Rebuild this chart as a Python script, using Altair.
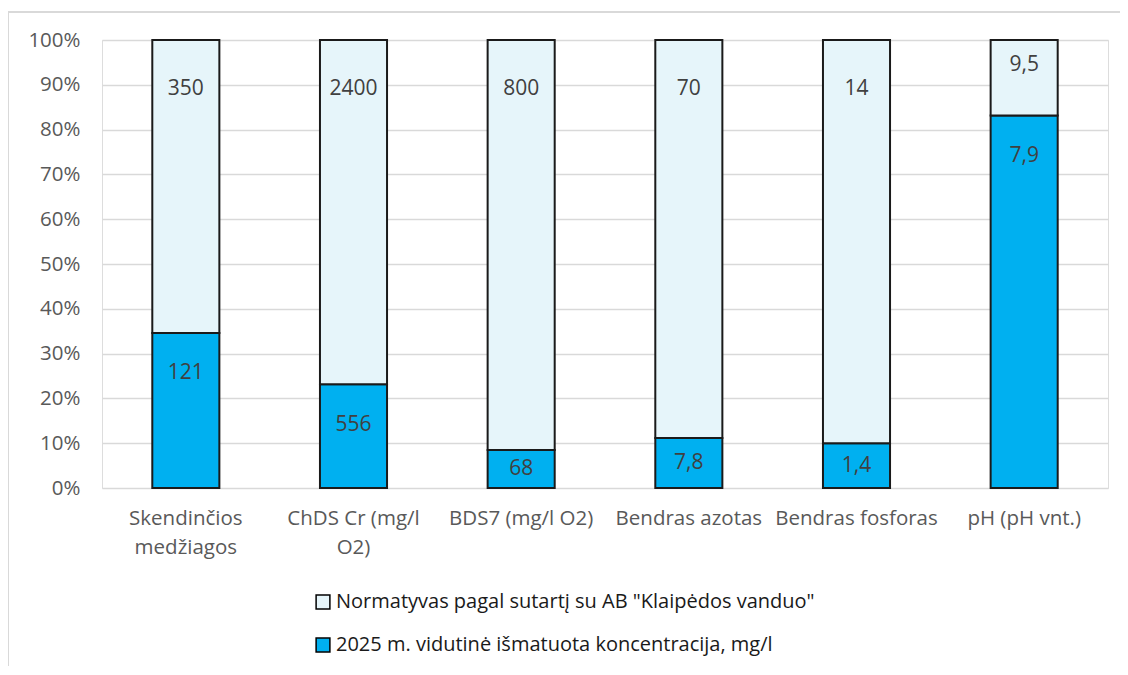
import altair as alt
import pandas as pd

categories = ["Skendinčios\nmedžiagos", "ChDS Cr (mg/l\nO2)", "BDS7 (mg/l O2)",
              "Bendras azotas", "Bendras fosforas", "pH (pH vnt.)"]
measured = [121, 556, 68, 7.8, 1.4, 7.9]
norm = [350, 2400, 800, 70, 14, 9.5]
series = ['Normatyvas pagal sutartį su AB "Klaipėdos vanduo"',
          "2025 m. vidutinė išmatuota koncentracija, mg/l"]

def fmt(v):
    s = f"{v:g}"
    return s.replace(".", ",")

rows = []
for c, m, n in zip(categories, measured, norm):
    f = m / n
    rows.append({"cat": c, "series": series[1], "lo": 0.0, "hi": f, "frac": f,
                 "label": fmt(m), "part": "bottom"})
    rows.append({"cat": c, "series": series[0], "lo": f, "hi": 1.0, "frac": f,
                 "label": fmt(n), "part": "top"})
df = pd.DataFrame(rows)

FONT = "Open Sans"
W, H = 1006, 448

x_enc = alt.X("cat:N", sort=categories,
              scale=alt.Scale(paddingInner=0.6, paddingOuter=0.3),
              axis=alt.Axis(title=None, labelAngle=0, labelFontSize=20.5,
                            labelColor="#595959", labelFont=FONT,
                            labelExpr="split(datum.label, '\\n')",
                            labelPadding=20, labelLineHeight=29,
                            ticks=False, domain=False, grid=False,
                            labelLimit=300))

bars = alt.Chart(df).mark_bar(stroke="#1a1a1a", strokeWidth=2).encode(
    x=x_enc,
    y=alt.Y("lo:Q", scale=alt.Scale(domain=[0, 1]),
            axis=alt.Axis(title=None, format=".0%",
                          values=[i / 10 for i in range(11)],
                          labelFontSize=20.5, labelColor="#595959", labelFont=FONT,
                          labelPadding=22, ticks=False, domain=False,
                          gridColor="#d9d9d9", gridWidth=1.5)),
    y2="hi:Q",
    color=alt.Color("series:N",
                    scale=alt.Scale(domain=series, range=["#E6F5FA", "#00B0F0"]),
                    legend=alt.Legend(title=None, orient="none",
                                      legendX=211, legendY=552,
                                      direction="vertical",
                                      symbolType="square", symbolSize=190,
                                      symbolStrokeColor="#000000",
                                      symbolStrokeWidth=1.5,
                                      labelFontSize=20, labelFont=FONT,
                                      labelColor="#1a1a1a", rowPadding=23,
                                      labelOffset=3, labelLimit=700)),
)

labels = alt.Chart(df).transform_calculate(
    ypos="datum.part == 'top' ? max(0.89, 1 - (1 - datum.frac) / 3) : max(datum.frac / 2, datum.frac - 0.09)"
).mark_text(font=FONT, fontSize=21, color="#404040", baseline="middle").encode(
    x=alt.X("cat:N", sort=categories),
    y=alt.Y("ypos:Q"),
    text="label:N",
)

frame_data = alt.Data(values=[{"k": 1}])
frame_top = alt.Chart(frame_data).mark_rule(color="#d9d9d9", strokeWidth=2).encode(
    x=alt.value(-94), x2=alt.value(W + 40), y=alt.value(-28))
frame_left = alt.Chart(frame_data).mark_rule(color="#d9d9d9", strokeWidth=2).encode(
    x=alt.value(-94), y=alt.value(-28), y2=alt.value(H + 200))

chart = alt.layer(frame_top, frame_left, bars, labels).properties(
    width=W, height=H,
    autosize=alt.AutoSizeParams(type="none"),
    padding={"left": 94, "top": 32, "right": 12, "bottom": 178},
).configure_view(stroke=None).configure(background="white")

chart.save("out.html", embed_options={"renderer": "svg", "actions": False})
